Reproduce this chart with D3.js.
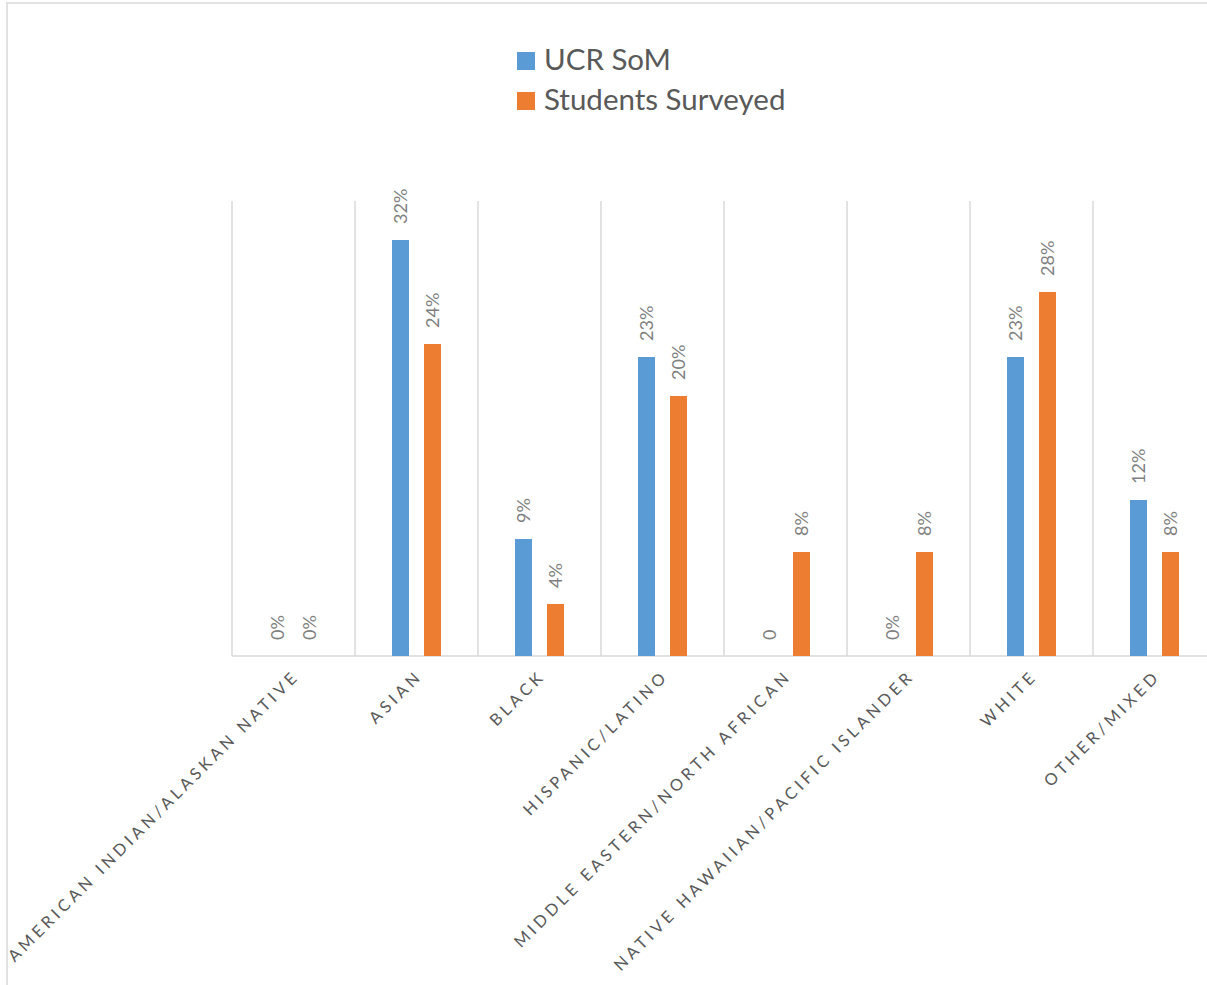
<!DOCTYPE html>
<html>
<head>
<meta charset="utf-8">
<script src="https://cdn.jsdelivr.net/npm/d3@7"></script>
<style>
  body { margin: 0; background: #fff; }
  svg { display: block; font-family: Lato, "Open Sans", sans-serif; }
</style>
</head>
<body>
<svg id="chart" width="1207" height="985"></svg>
<script>
const categories = [
  'AMERICAN INDIAN/ALASKAN NATIVE',
  'ASIAN',
  'BLACK',
  'HISPANIC/LATINO',
  'MIDDLE EASTERN/NORTH AFRICAN',
  'NATIVE HAWAIIAN/PACIFIC ISLANDER',
  'WHITE',
  'OTHER/MIXED'
];
const seriesNames = ['UCR SoM', 'Students Surveyed'];
const ucrValues = [0, 32, 9, 23, 0, 0, 23, 12];
const surveyedValues = [0, 24, 4, 20, 8, 8, 28, 8];
// data labels as printed on the chart
const ucrLabels = ['0%', '32%', '9%', '23%', '0', '0%', '23%', '12%'];
const surveyedLabels = ['0%', '24%', '4%', '20%', '8%', '8%', '28%', '8%'];

const colors = ['#5b9bd5', '#ed7d31'];

let svg = d3.select('#chart');

// outer frame (left and top edges visible)
svg.append('path')
  .attr('d', 'M7,985 V3 H1207')
  .attr('fill', 'none')
  .attr('stroke', '#d9d9d9')
  .attr('stroke-width', 1.5);

let plotLeft = 232;
let step = 123;
let x = d3.scaleBand()
  .domain(categories)
  .range([plotLeft, plotLeft + step * categories.length]);

let xInner = d3.scaleBand()
  .domain(seriesNames)
  .range([0, step])
  .paddingInner(15 / 32)
  .paddingOuter(37 / 32);

let y = d3.scaleLinear()
  .domain([0, 35])
  .range([656, 201]);

// vertical category gridlines
let grid = svg.append('g');
grid.selectAll('line')
  .data(categories)
  .enter()
  .append('line')
  .attr('x1', d => x(d))
  .attr('x2', d => x(d))
  .attr('y1', y(35))
  .attr('y2', y(0))
  .attr('stroke', '#d9d9d9')
  .attr('stroke-width', 1.5);

// baseline
svg.append('line')
  .attr('x1', plotLeft)
  .attr('x2', 1207)
  .attr('y1', y(0))
  .attr('y2', y(0))
  .attr('stroke', '#d9d9d9')
  .attr('stroke-width', 1.5);

let rows = categories.map((c, i) => ({
  cat: c,
  vals: [
    { s: seriesNames[0], v: ucrValues[i], label: ucrLabels[i], k: 0 },
    { s: seriesNames[1], v: surveyedValues[i], label: surveyedLabels[i], k: 1 }
  ]
}));

let groups = svg.append('g')
  .selectAll('g')
  .data(rows)
  .enter()
  .append('g')
  .attr('transform', d => 'translate(' + x(d.cat) + ',0)');

groups.selectAll('rect')
  .data(d => d.vals)
  .enter()
  .append('rect')
  .attr('x', d => xInner(d.s))
  .attr('width', xInner.bandwidth())
  .attr('y', d => y(d.v))
  .attr('height', d => y(0) - y(d.v))
  .attr('fill', d => colors[d.k]);

groups.selectAll('text')
  .data(d => d.vals)
  .enter()
  .append('text')
  .attr('transform', d => {
    let cx = xInner(d.s) + xInner.bandwidth() / 2;
    return 'translate(' + cx + ',' + (y(d.v) - 16) + ') rotate(-90)';
  })
  .attr('dy', '0.35em')
  .attr('text-anchor', 'start')
  .attr('font-size', 18)
  .attr('fill', '#7f7f7f')
  .text(d => d.label);

// category labels, rotated
svg.append('g')
  .selectAll('text')
  .data(categories)
  .enter()
  .append('text')
  .attr('transform', d => {
    let cx = x(d) + x.bandwidth() / 2;
    return 'translate(' + (cx + 7) + ',' + 677 + ') rotate(-45)';
  })
  .attr('text-anchor', 'end')
  .attr('font-size', 16.3)
  .attr('letter-spacing', '3.9px')
  .attr('fill', '#595959')
  .text(d => d);

// legend
let legend = svg.append('g')
  .selectAll('g')
  .data(seriesNames)
  .enter()
  .append('g')
  .attr('transform', (d, i) => 'translate(517,' + (52 + i * 40) + ')');

legend.append('rect')
  .attr('width', 18)
  .attr('height', 18)
  .attr('fill', (d, i) => colors[i]);

legend.append('text')
  .attr('x', 27)
  .attr('y', 18)
  .attr('font-size', 29.5)
  .attr('fill', '#595959')
  .text(d => d);
</script>
</body>
</html>
